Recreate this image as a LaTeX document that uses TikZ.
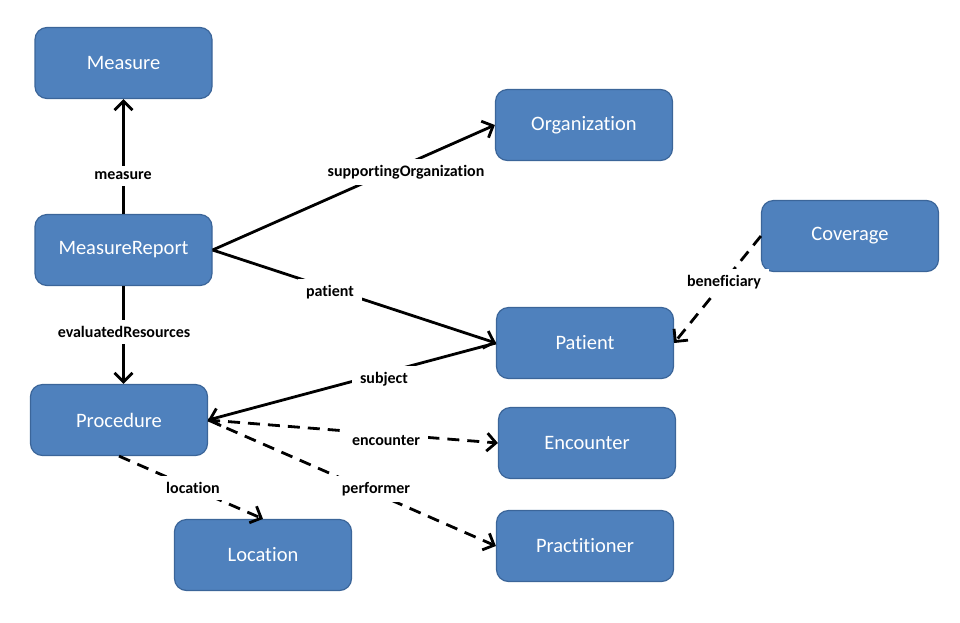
\documentclass[tikz,border=0pt]{standalone}
\usepackage{fontspec}
\setmainfont{Carlito}[Ligatures=NoCommon]
\usetikzlibrary{arrows.meta}
\definecolor{boxfill}{HTML}{4F81BD}
\definecolor{boxline}{HTML}{3B6599}
\begin{document}
\begin{tikzpicture}[x=1pt,y=-1pt,
  entity/.style={draw=boxline, line width=1.2pt, fill=boxfill, rounded corners=12pt,
    minimum width=177pt, minimum height=71pt, text=white,
    font=\fontsize{20.5}{24}\selectfont},
  link/.style={line width=2.8pt, -{Straight Barb[length=9pt,width=18pt]}},
  optlink/.style={link, dash pattern=on 12pt off 8pt},
  lbl/.style={fill=white, font=\bfseries\fontsize{16}{18}\selectfont,
    inner xsep=8pt, inner ysep=6pt}
]
\useasboundingbox (0,0) rectangle (960,622);

% resources
\node[entity] (meas) at (123.5,63)  {Measure};
\node[entity] (mr)   at (123.5,250) {MeasureReport};
\node[entity] (proc) at (119,420)   {Procedure};
\node[entity] (loc)  at (263,555)   {Location};
\node[entity] (org)  at (584,125)   {Organization};
\node[entity] (cov)  at (850,236)   {Coverage};
\node[entity] (pat)  at (585,343)   {Patient};
\node[entity] (enc)  at (587,443)   {Encounter};
\node[entity] (prac) at (585,546)   {Practitioner};

% required references
\draw[link] (mr.north) -- (meas.south);
\draw[link] (mr.south) -- (mr.south |- proc.north);
\draw[link] (mr.east) -- (org.west);
\draw[link] (mr.east) -- (pat.west);
\draw[link] (pat.west) -- (proc.east);

% optional references
\draw[optlink] (proc.east) -- (enc.west);
\draw[optlink] (proc.east) -- (prac.west);
\draw[optlink] (proc.south) -- (loc.north);
\draw[optlink] (cov.west) -- (pat.east);

% reference names
\node[lbl] (l1) at (123,176) {measure};
\node[lbl] (l2) at (124,332) {evaluatedResources};
\node[lbl] (l3) at (406,172) {supportingOrganization};
\node[lbl] (l4) at (330,292) {patient};
\node[lbl] (l5) at (384,379) {subject};
\node[lbl] (l6) at (386,440) {encounter};
\node[lbl] (l7) at (376,489) {performer};
\node[lbl] (l8) at (193,488) {location};
\node[lbl] (l9) at (724,282) {beneficiary};
\end{tikzpicture}
\end{document}
